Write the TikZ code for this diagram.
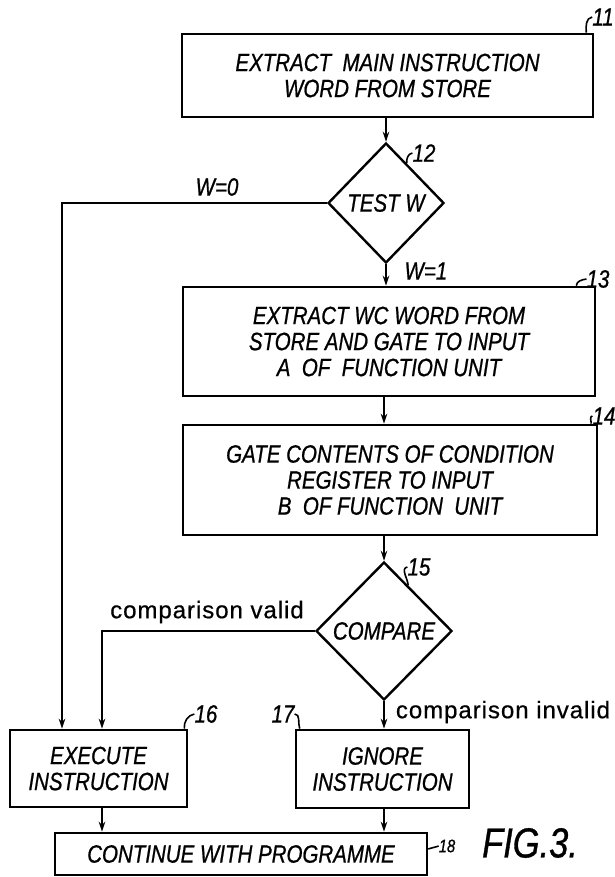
\documentclass[tikz,border=0pt]{standalone}
\usepackage{fontspec}
\setmainfont{Liberation Sans}
\newfontfamily\pf{Liberation Sans}[FakeStretch=0.82,FakeBold=0.8]
\newfontfamily\lf{Liberation Sans}[LetterSpace=4,FakeBold=0.6]
\usetikzlibrary{shapes.geometric,arrows.meta,calc}
\tikzset{
  txt/.style={font=\pf\itshape\fontsize{25}{26}\selectfont},
  box/.style={draw, line width=2.6pt, inner sep=0pt, align=center, txt},
  dia/.style={draw, diamond, line width=2.4pt, inner sep=0pt, align=center, txt},
  arr/.style={line width=2.2pt, -{Stealth[length=10pt,width=6.5pt]}},
  hook/.style={line width=1.6pt},
  num/.style={txt, inner sep=0pt},
  low/.style={font=\lf\fontsize{24}{26}\selectfont, inner sep=0pt}
}
\begin{document}
\begin{tikzpicture}[x=1pt,y=1pt]
\useasboundingbox (0,0) rectangle (614,-877);
% boxes
\node[box, minimum width=411pt, minimum height=83pt] (b11) at (387.5,-75.5) {EXTRACT\ \ MAIN INSTRUCTION\\WORD FROM STORE};
\node[dia, minimum width=116pt, minimum height=120pt] (d12) at (386,-203) {TEST W};
\node[box, minimum width=412pt, minimum height=109pt] (b13) at (389,-341.5) {EXTRACT WC WORD FROM\\STORE AND GATE TO INPUT\\A\ \ OF\ \ FUNCTION UNIT};
\node[box, minimum width=414pt, minimum height=110pt] (b14) at (390,-480) {GATE CONTENTS OF CONDITION\\REGISTER TO INPUT\\B\ \ OF FUNCTION\ \ UNIT};
\node[dia, minimum width=136pt, minimum height=138pt] (d15) at (384,-631) {COMPARE};
\node[box, minimum width=177pt, minimum height=77pt] (b16) at (98.5,-768.5) {EXECUTE\\INSTRUCTION};
\node[box, minimum width=173pt, minimum height=78pt] (b17) at (382.5,-769) {IGNORE\\INSTRUCTION};
\node[box, minimum width=372pt, minimum height=42pt] (b18) at (241,-854) {CONTINUE WITH PROGRAMME};
% helper coordinates
\coordinate (lx) at (62,0);
\coordinate (vx) at (102,0);
% connectors
\draw[arr] (d12.north |- b11.south) -- (d12.north);
\draw[arr] (d12.south) -- (d12.south |- b13.north);
\draw[arr] (d15.north |- b13.south) -- (d15.north |- b14.north);
\draw[arr] (d15.north |- b14.south) -- (d15.north);
\draw[arr] (d15.south) -- (d15.south |- b17.north);
\draw[arr] (d12.west) -- (d12.west -| lx) -- (lx |- b16.north);
\draw[arr] (d15.west) -- (d15.west -| vx) -- (vx |- b16.north);
\draw[arr] (vx |- b16.south) -- (vx |- b18.north);
\draw[arr] (d15.south |- b17.south) -- (d15.south |- b18.north);
% branch labels
\node[txt] (w0) at (217,-187) {W=0};
\node[txt, anchor=west] (w1) at (401,-271) {W=1};
\node[low] (cv) at (207,-612) {comparison valid};
\node[low] (ci) at (503,-712) {comparison invalid};
% reference numerals
\node[num] (l11) at (603,-17) {11};
\node[num] (l12) at (424,-153) {12};
\node[num] (l13) at (598,-279) {13};
\node[num] (l14) at (604,-416) {14};
\node[num] (l15) at (419,-567) {15};
\node[num] (l16) at (206,-714) {16};
\node[num] (l17) at (283,-714) {17};
\node[num, font=\pf\itshape\fontsize{18}{20}\selectfont] (l18) at (447,-846) {18};
\node[num, font=\pf\itshape\fontsize{42}{44}\selectfont] (fig) at (530,-843) {FIG.3.};
% hooks
\draw[hook] ($(b11.north east)+(-8,0)$) to[out=95,in=190] (l11.west);
\draw[hook] ($(d12.north)!0.35!(d12.east)$) to[out=95,in=190] (l12.west);
\draw[hook] ($(b13.north east)+(-20,0)$) to[out=85,in=190] (l13.west);
\draw[hook] ($(b14.north east)+(-7,0)$) to[out=95,in=190] (l14.west);
\draw[hook] ($(d15.north)!0.35!(d15.east)$) to[out=95,in=190] (l15.west);
\draw[hook] ($(b16.north east)+(-4,0)$) to[out=95,in=190] (l16.west);
\draw[hook] (l17.east) to[out=0,in=110] ($(b17.north west)+(5,0)$);
\draw[hook] ($(b18.east)+(0,5)$) to[out=20,in=200] (l18.west);
\end{tikzpicture}
\end{document}
